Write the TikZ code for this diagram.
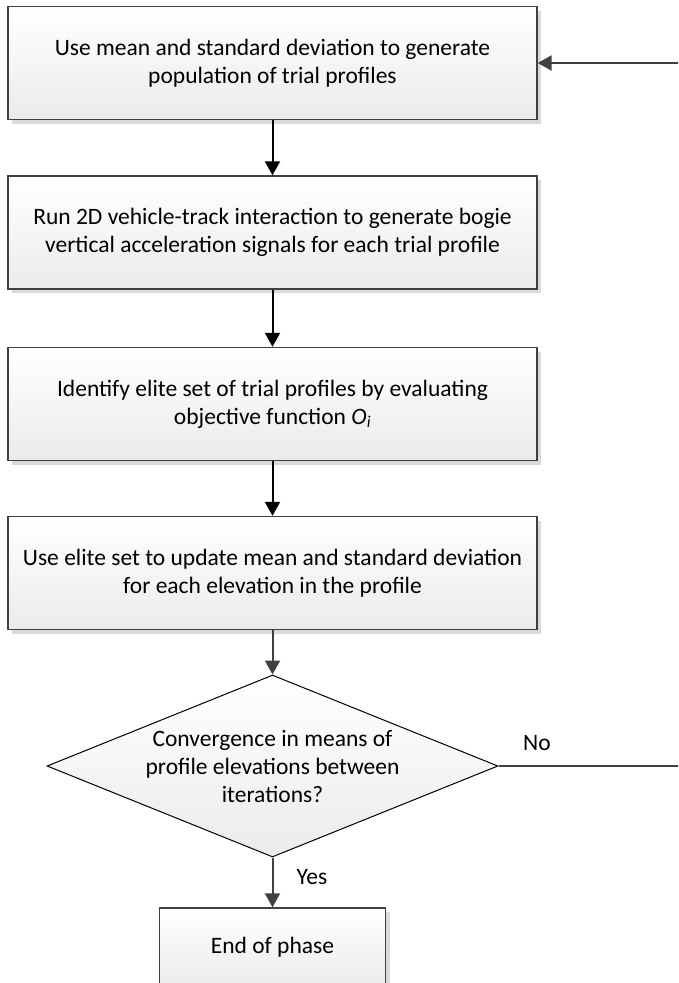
\documentclass[tikz,border=0pt]{standalone}
\usepackage{fontspec}
\setmainfont{Carlito}
\usetikzlibrary{arrows.meta, shapes.geometric, shadows}
\definecolor{cline}{HTML}{404040}
\definecolor{cfill}{HTML}{EBEBEB}
\definecolor{cshadow}{HTML}{DADADA}
\tikzset{
  every picture/.style={font=\fontsize{23.5}{28}\selectfont},
  box/.style={draw=cline, line width=1.4pt, top color=white, bottom color=cfill, align=center, inner sep=0pt,
    minimum width=529pt, minimum height=113pt,
    drop shadow={shadow xshift=4pt, shadow yshift=-4pt, fill=cshadow, opacity=1}},
  decision/.style={diamond, aspect=2.48, draw=black, line width=1pt, top color=white, bottom color=cfill, align=center, inner sep=0pt,
    minimum width=451pt, minimum height=182pt},
  arrow/.style={-{Triangle[length=14pt, width=15pt]}, line width=2pt},
  tag/.style={font=\fontsize{23.5}{28}\selectfont, inner sep=0pt},
}

\begin{document}
\begin{tikzpicture}[x=1pt, y=-1pt]
  \useasboundingbox (0,0) rectangle (678,983);
  \clip (0,0) rectangle (678,983);
  \node[box] (gen) at (272.5,63) {Use mean and standard deviation to generate\\population of trial profiles};
  \node[box] (sim) at (272.5,232.5) {Run 2D vehicle-track interaction to generate bogie\\vertical acceleration signals for each trial profile};
  \node[box] (elite) at (272.5,404) {Identify elite set of trial profiles by evaluating\\objective function \textit{O\textsubscript{i}}};
  \node[box] (upd) at (272.5,573) {Use elite set to update mean and standard deviation\\for each elevation in the profile};
  \node[decision] (conv) at (272.5,766) {Convergence in means of\\profile elevations between\\iterations?};
  \node[box, minimum width=226pt, minimum height=78pt] (stop) at (272.5,947) {End of phase};
  \foreach \a/\b in {gen/sim, sim/elite, elite/upd}
    \draw[arrow, black] (\a) -- (\b);
  \draw[arrow, cline] (upd) -- (conv);
  \draw[arrow, cline] (conv) -- (stop);
  \draw[arrow, cline, line width=2.6pt] (conv.east) -- (720,766) |- (gen.east);
  \node[tag] (no) at (537,743) {No};
  \node[tag] (yes) at (312,877) {Yes};
\end{tikzpicture}
\end{document}
